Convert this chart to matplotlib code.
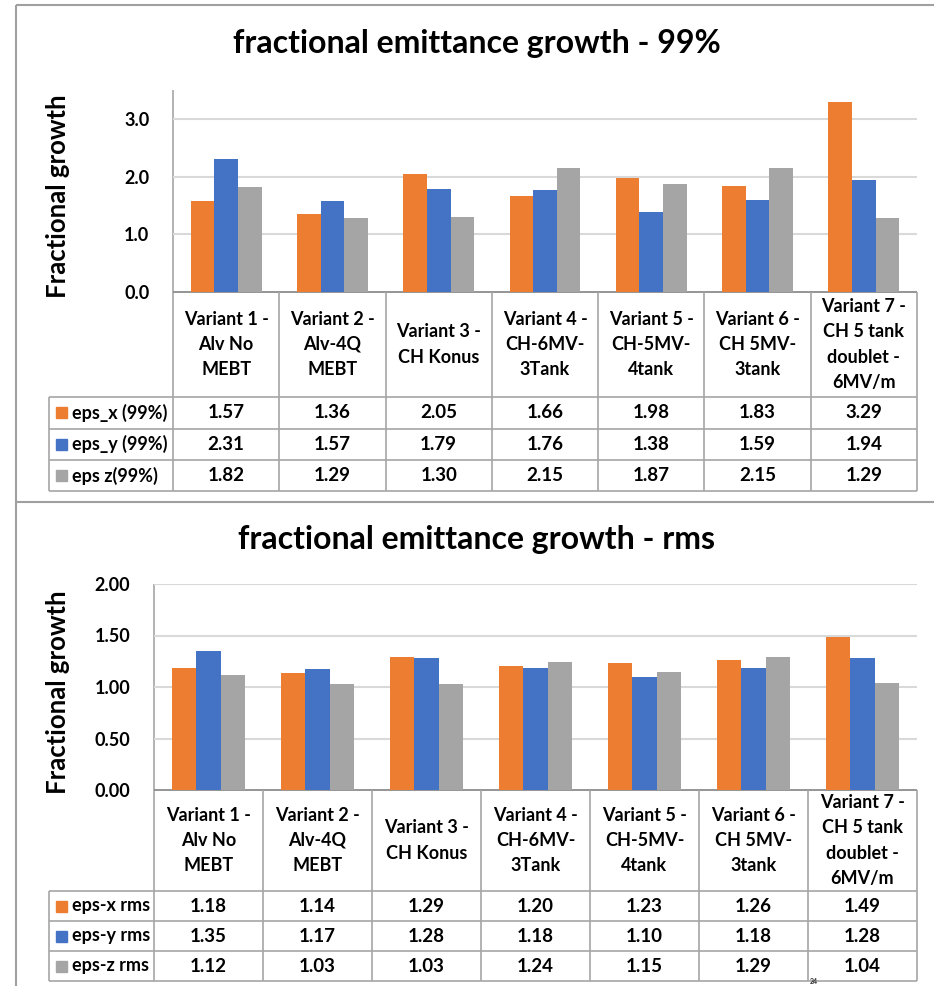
import matplotlib
matplotlib.use("Agg")
import matplotlib.pyplot as plt
import numpy as np

plt.rcParams["font.family"] = ["Lato", "DejaVu Sans"]
plt.rcParams["font.weight"] = "bold"

# ---- data ----
categories = [
    "Variant 1 -\nAlv No\nMEBT",
    "Variant 2 -\nAlv-4Q\nMEBT",
    "Variant 3 -\nCH Konus",
    "Variant 4 -\nCH-6MV-\n3Tank",
    "Variant 5 -\nCH-5MV-\n4tank",
    "Variant 6 -\nCH 5MV-\n3tank",
    "Variant 7 -\nCH 5 tank\ndoublet -\n6MV/m",
]

labels_99 = ["eps_x (99%)", "eps_y (99%)", "eps z(99%)"]
eps_x_99 = [1.57, 1.36, 2.05, 1.66, 1.98, 1.83, 3.29]
eps_y_99 = [2.31, 1.57, 1.79, 1.76, 1.38, 1.59, 1.94]
eps_z_99 = [1.82, 1.29, 1.30, 2.15, 1.87, 2.15, 1.29]

labels_rms = ["eps-x rms", "eps-y rms", "eps-z rms"]
eps_x_rms = [1.18, 1.14, 1.29, 1.20, 1.23, 1.26, 1.49]
eps_y_rms = [1.35, 1.17, 1.28, 1.18, 1.10, 1.18, 1.28]
eps_z_rms = [1.12, 1.03, 1.03, 1.24, 1.15, 1.29, 1.04]

colors = ["#ED7D31", "#4472C4", "#A5A5A5"]
GRID = "#D9D9D9"
TABLE = "#A6A6A6"
FRAME = "#A0A0A0"

W, H = 934, 986
fig = plt.figure(figsize=(W / 100, H / 100), dpi=100)
fig.patch.set_facecolor("white")

# pixel-space overlay for frames and data tables
ov = fig.add_axes([0, 0, 1, 1])
ov.set_xlim(0, W)
ov.set_ylim(H, 0)
ov.axis("off")


def line(x0, y0, x1, y1, color=TABLE, lw=1.2):
    ov.plot([x0, x1], [y0, y1], color=color, lw=lw, solid_capstyle="butt")


def panel(title, title_y, series, labels, left, right, top, bottom,
          ymax, ticks, fmt, header_bottom, rows, leg_left):
    # bar plot area
    ax = fig.add_axes([left / W, 1 - bottom / H, (right - left) / W, (bottom - top) / H])
    ax.patch.set_alpha(0)
    n = len(categories)
    x = np.arange(n)
    w = 1 / 4.5
    for i, vals in enumerate(series):
        ax.bar(x + (i - 1) * w, vals, width=w, color=colors[i], zorder=3)
    ax.set_xlim(-0.5, n - 0.5)
    ax.set_ylim(0, ymax)
    ax.set_yticks(ticks)
    ax.set_yticklabels([fmt.format(t) for t in ticks], fontsize=13, fontweight="bold")
    ax.tick_params(axis="y", length=0, pad=17)
    ax.set_xticks([])
    for t in ticks[1:]:
        ax.axhline(t, color=GRID, lw=1.5, zorder=1)
    for s in ax.spines.values():
        s.set_visible(False)

    # title and y label
    ov.text(477, title_y, title, ha="center", va="center",
            fontsize=23, fontweight="bold")
    ov.text(58, (top + bottom) / 2 + 5, "Fractional growth", rotation=90,
            ha="center", va="center", fontsize=18.5, fontweight="bold")

    # data table grid
    colw = (right - left) / n
    line(left, top, left, rows[-1])
    line(left, bottom, right, bottom, color="#8C8C8C", lw=1.3)
    for k in range(1, n + 1):
        xx = left + k * colw
        line(xx, bottom, xx, rows[-1])
    for yy in rows:
        line(leg_left, yy, right, yy)
    line(leg_left, rows[0], leg_left, rows[-1])

    # header cells
    for k, cat in enumerate(categories):
        ov.text(left + (k + 0.5) * colw, (bottom + header_bottom) / 2, cat,
                ha="center", va="center", fontsize=13, fontweight="bold",
                linespacing=1.6, multialignment="center")

    # legend keys and values
    for i, (lab, vals) in enumerate(zip(labels, series)):
        yc = (rows[i] + rows[i + 1]) / 2
        ov.add_patch(plt.Rectangle((leg_left + 7, yc - 5.5), 11, 11, color=colors[i]))
        ov.text(leg_left + 23, yc, lab, ha="left", va="center",
                fontsize=13, fontweight="bold")
        for k, v in enumerate(vals):
            ov.text(left + (k + 0.5) * colw, yc, f"{v:.2f}", ha="center",
                    va="center", fontsize=13.5, fontweight="bold")


# outer chart frames
line(16, 5, W, 5, color=FRAME, lw=1.5)
line(16, 502, W, 502, color=FRAME, lw=1.5)
line(16, 5, 16, H, color=FRAME, lw=1.5)

panel("fractional emittance growth - 99%", 44,
      [eps_x_99, eps_y_99, eps_z_99], labels_99,
      left=173, right=917, top=90, bottom=292,
      ymax=3.5, ticks=[0, 1, 2, 3], fmt="{:.1f}",
      header_bottom=397, rows=[397, 428.5, 460, 491], leg_left=49)

panel("fractional emittance growth - rms", 539,
      [eps_x_rms, eps_y_rms, eps_z_rms], labels_rms,
      left=154, right=917, top=584, bottom=790,
      ymax=2.0, ticks=[0, 0.5, 1.0, 1.5, 2.0], fmt="{:.2f}",
      header_bottom=891, rows=[891, 921, 951, 981], leg_left=49)

# page number at the bottom edge
ov.text(814, 985.5, "24", ha="center", va="bottom", fontsize=5, color="#333333")

fig.savefig("out.png", dpi=100, facecolor="white")
